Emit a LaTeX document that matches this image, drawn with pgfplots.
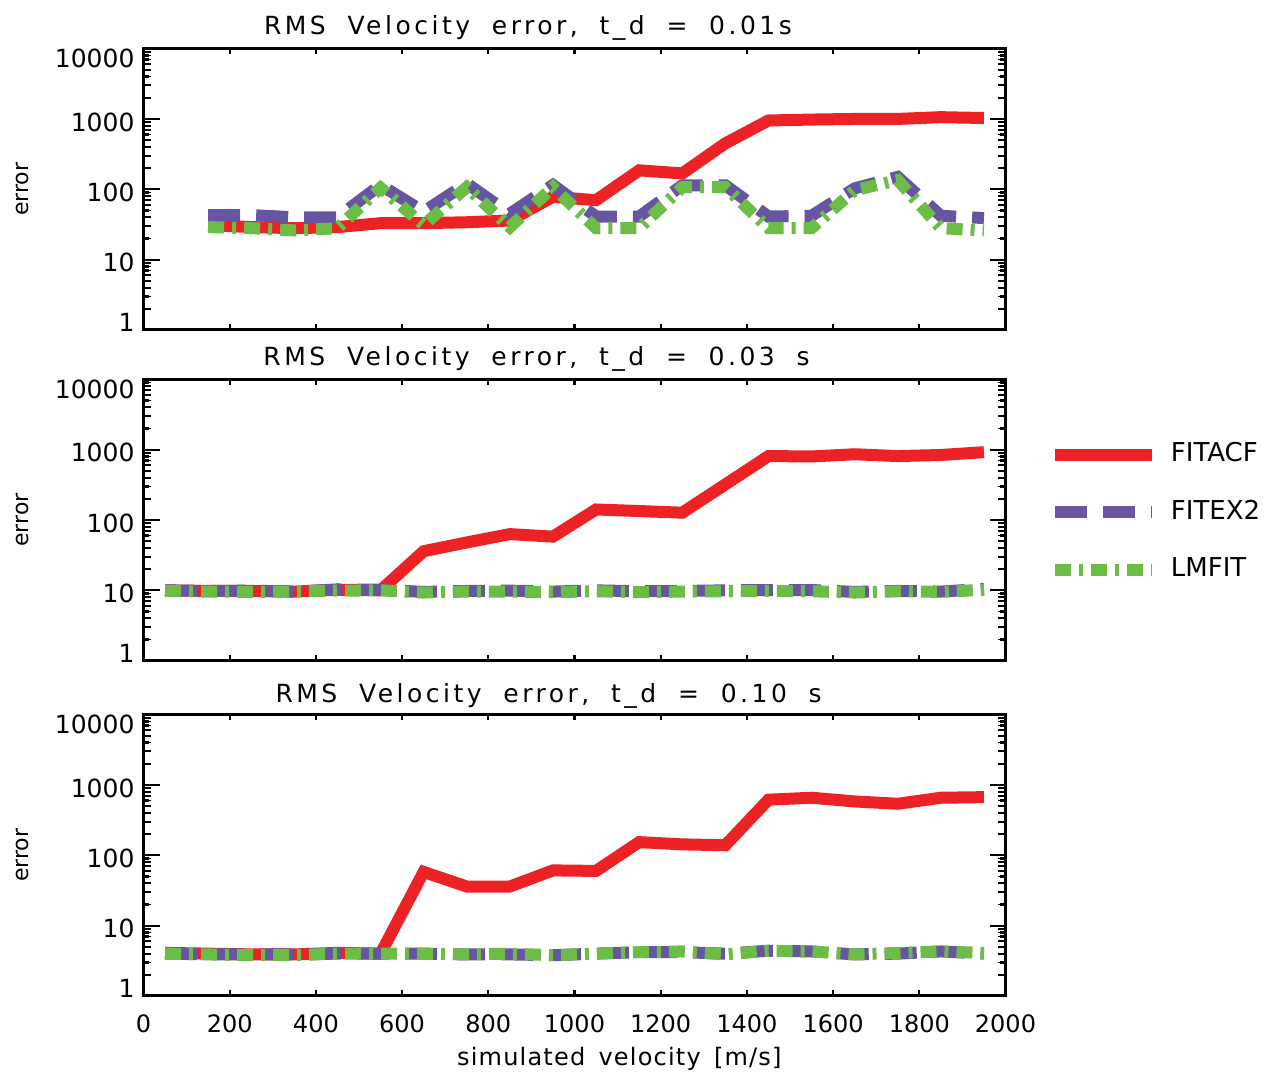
\documentclass[border=0pt]{standalone}
\usepackage{fontspec}
\setmainfont{DejaVu Sans}
\newfontfamily\titlefont[LetterSpace=14,WordSpace=1.9]{DejaVu Sans}
\newfontfamily\labelfont[LetterSpace=5,WordSpace=1.5]{DejaVu Sans}
\usepackage{pgfplots}
\usepackage{pgfplotstable}
\pgfplotsset{compat=1.18}

\definecolor{fitacf}{RGB}{237,34,36}
\definecolor{fitex}{RGB}{103,84,162}
\definecolor{lmfit}{RGB}{107,189,69}

% RMS velocity error, t_d = 0.01 s
\pgfplotstableread{
v     fitacf  fitex2  lmfit
150   31      43      29
250   29      43      28
350   28      40      26
450   29      40      28
550   33      115     105
650   33      48      31
750   34      121     107
850   36      45      29
950   78      115     107
1050  70      41      28
1150  186     41      28
1250  168     114     107
1350  450     114     107
1450  950     41      28
1550  980     42      28
1650  1000    103     97
1750  1000    150     135
1850  1060    42      28
1950  1030    39      26
}\tdone

% RMS velocity error, t_d = 0.03 s
\pgfplotstableread{
v     fitacf  fitex2  lmfit
50    10      10      9.8
150   9.8     9.8     9.6
250   9.8     9.9     9.5
350   9.6     9.6     9.6
450   10.2    10.3    9.9
550   10      10.2    10
650   36      9.5     9.3
750   48      9.8     9.6
850   63      9.9     9.6
950   58      9.6     9.4
1050  141     10      9.7
1150  134     9.7     9.4
1250  127     9.8     9.6
1350  320     10      9.7
1450  810     10.1    9.8
1550  800     10.1    9.7
1650  860     9.5     9.3
1750  810     9.8     9.7
1850  840     9.6     9.5
1950  920     10.5    10.2
}\tdthree

% RMS velocity error, t_d = 0.10 s
\pgfplotstableread{
v     fitacf  fitex2  lmfit
50    4.1     4.0     4.0
150   4.0     3.9     3.9
250   3.9     3.9     3.8
350   3.9     3.9     3.8
450   4.1     4.0     4.0
550   4.0     4.0     4.0
650   58      4.0     4.0
750   36      3.9     3.9
850   36      3.9     4.0
950   61      3.8     3.8
1050  60      4.0     4.0
1150  154     4.2     4.2
1250  143     4.2     4.3
1350  139     4.0     3.9
1450  617     4.4     4.4
1550  658     4.3     4.3
1650  583     3.9     3.9
1750  540     4.0     4.1
1850  658     4.3     4.3
1950  671     4.0     4.1
}\tdten

\pgfplotsset{
  errpanel/.style={
    scale only axis, width=431pt, height=140.7pt,
    xmin=0, xmax=2000, ymin=1, ymax=10000,
    xtick={0,200,...,2000},
    ytick={1,10,100,1000,10000},
    yticklabels={\raisebox{5.25pt}{1},10,100,1000,\raisebox{-3.5pt}{10000}},
    % short marks at 2..9 of every decade
    extra y ticks={2,3,4,5,6,7,8,9,20,30,40,50,60,70,80,90,
      200,300,400,500,600,700,800,900,2000,3000,4000,5000,6000,7000,8000,9000},
    extra y tick labels={},
    extra y tick style={every major y tick/.append style={/pgfplots/major tick length=4pt, line width=0.9pt}},
    axis line style={line width=1.5pt},
    tick align=inside,
    every tick/.append style={black, line width=1.1pt},
    every x tick/.append style={/pgfplots/major tick length=2.8pt},
    every major y tick/.append style={/pgfplots/major tick length=8pt},
    /pgf/number format/assume math mode=true,
    /pgf/number format/1000 sep={},
    yticklabel style={xshift=-1pt, yshift=-1.5pt, text height=9.1pt, text depth=0pt,
      font=\fontsize{12.5}{14}\selectfont},
    xticklabel style={yshift=-6pt, font=\fontsize{12}{14}\selectfont},
    ylabel={error},
    ylabel style={at={(axis description cs:-0.1398,0.5)}, anchor=center,
      font=\fontsize{11}{13}\selectfont},
    clip=false,
  },
  acf/.style={color=fitacf, line width=6pt},
  ex2/.style={color=fitex, line width=6pt, dash pattern=on 16pt off 8pt},
  lmf/.style={color=lmfit, line width=6pt, dash pattern=on 8pt off 4pt on 2pt off 4pt},
}

\begin{document}
\begin{tikzpicture}
\useasboundingbox (-71.75pt,-39pt) rectangle (564.75pt,498pt);

\begin{semilogyaxis}[errpanel, at={(0pt,333pt)}, anchor=south west,
  xticklabels={},
  title={RMS Velocity error, t\_d = 0.01s},
  every axis title/.style={at={(axis description cs:0.446,1)}, anchor=base,
    yshift=7pt, font=\titlefont\fontsize{12.5}{15}\selectfont}]
\addplot[acf] table[x=v, y=fitacf] {\tdone};
\addplot[ex2] table[x=v, y=fitex2] {\tdone};
\addplot[lmf] table[x=v, y=lmfit] {\tdone};
\end{semilogyaxis}

\begin{semilogyaxis}[errpanel, at={(0pt,167.65pt)}, anchor=south west,
  xticklabels={},
  title={RMS Velocity error, t\_d = 0.03 s},
  every axis title/.style={at={(axis description cs:0.456,1)}, anchor=base,
    yshift=6.8pt, font=\titlefont\fontsize{12.5}{15}\selectfont},
  legend style={draw=none, fill=none, inner sep=0pt,
    at={(axis description cs:1.0499,0.504)}, anchor=west,
    row sep=16.25pt, column sep=6.5pt,
    nodes={inner sep=0pt, text height=9.5pt, text depth=0pt},
    font=\fontsize{13}{15}\selectfont},
  legend cell align=left,
  legend image code/.code={\draw[#1] (0pt,4.75pt) -- (48.5pt,4.75pt);}]
\addplot[acf] table[x=v, y=fitacf] {\tdthree};
\addplot[ex2] table[x=v, y=fitex2] {\tdthree};
\addplot[lmf] table[x=v, y=lmfit] {\tdthree};
\legend{\raisebox{6pt}{FITACF}, \raisebox{6pt}{FITEX2}, \raisebox{6pt}{LMFIT}}
\end{semilogyaxis}

\begin{semilogyaxis}[errpanel, at={(0pt,0pt)}, anchor=south west,
  xlabel={simulated velocity [m/s]},
  xlabel style={at={(axis description cs:0.552,0)}, anchor=base, yshift=-35pt,
    font=\labelfont\fontsize{12}{14}\selectfont},
  title={RMS Velocity error, t\_d = 0.10 s},
  every axis title/.style={at={(axis description cs:0.47,1)}, anchor=base,
    yshift=5.8pt, font=\titlefont\fontsize{12.5}{15}\selectfont}]
\addplot[acf] table[x=v, y=fitacf] {\tdten};
\addplot[ex2] table[x=v, y=fitex2] {\tdten};
\addplot[lmf] table[x=v, y=lmfit] {\tdten};
\end{semilogyaxis}
\end{tikzpicture}
\end{document}
